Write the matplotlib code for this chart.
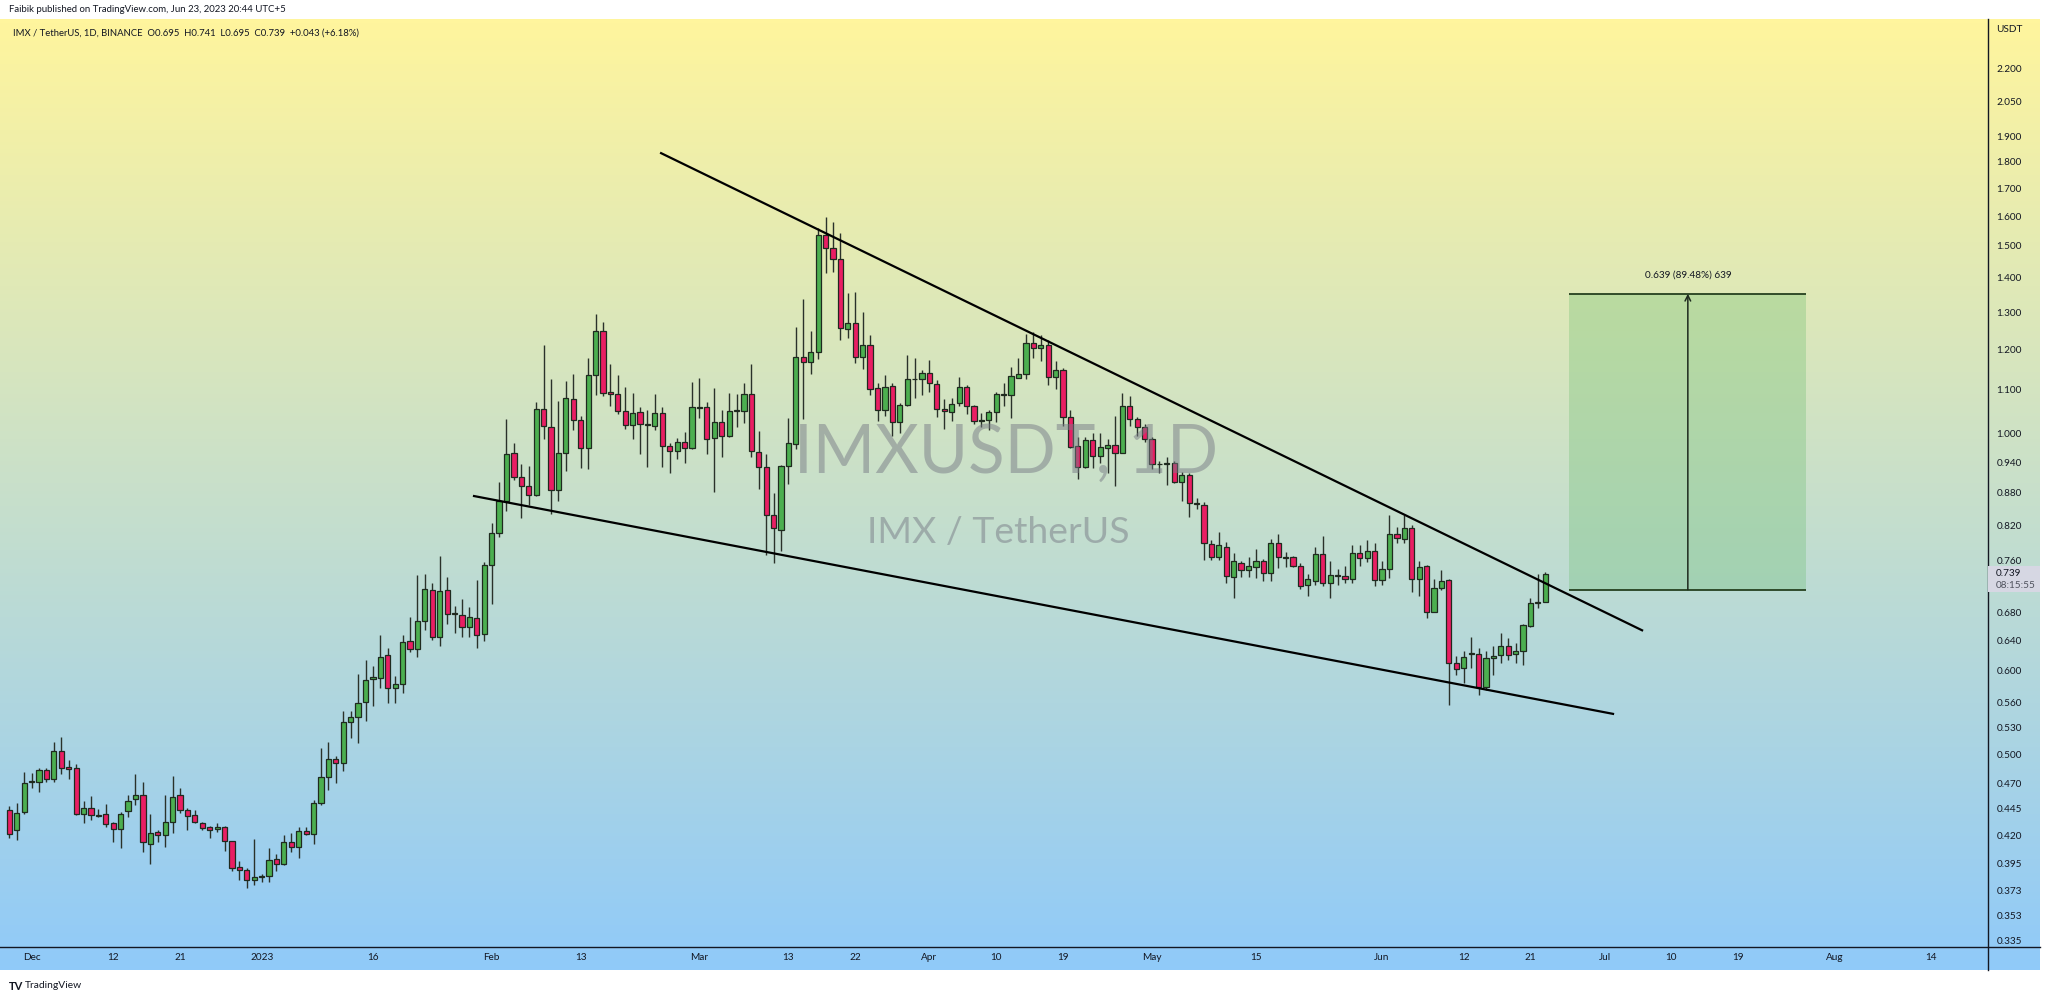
import numpy as np
import pandas as pd
import matplotlib
matplotlib.use("Agg")
import matplotlib.pyplot as plt
import matplotlib.dates as mdates
from matplotlib.ticker import NullLocator, NullFormatter
from matplotlib.lines import Line2D
from matplotlib.patches import Rectangle

W, H = 2048, 999

# daily candles IMX/USDT, 2022-11-28 .. 2023-06-23
opens = [0.444, 0.425, 0.442, 0.471, 0.471, 0.484, 0.474, 0.504, 0.487, 0.486,
         0.440, 0.446, 0.439, 0.440, 0.431, 0.426, 0.443, 0.454, 0.458, 0.412,
         0.423, 0.420, 0.432, 0.458, 0.444, 0.439, 0.431, 0.428, 0.426, 0.428,
         0.415, 0.392, 0.390, 0.381, 0.384, 0.385, 0.399, 0.395, 0.414, 0.410,
         0.424, 0.421, 0.450, 0.476, 0.495, 0.491, 0.536, 0.542, 0.560, 0.589,
         0.590, 0.620, 0.577, 0.583, 0.639, 0.628, 0.667, 0.714, 0.644, 0.714,
         0.679, 0.676, 0.658, 0.672, 0.649, 0.753, 0.807, 0.864, 0.959, 0.910,
         0.893, 0.876, 1.054, 1.014, 0.885, 0.959, 1.077, 1.030, 0.969, 1.135,
         1.247, 1.094, 1.089, 1.050, 1.019, 1.047, 1.021, 1.017, 1.045, 0.973,
         0.963, 0.982, 0.969, 1.059, 1.059, 0.990, 1.025, 0.995, 1.050, 1.050,
         1.089, 0.961, 0.930, 0.839, 0.812, 0.932, 0.979, 1.180, 1.167, 1.193,
         1.537, 1.493, 1.457, 1.253, 1.270, 1.180, 1.211, 1.103, 1.052, 1.108,
         1.025, 1.064, 1.125, 1.126, 1.140, 1.113, 1.055, 1.048, 1.068, 1.106,
         1.061, 1.030, 1.030, 1.048, 1.089, 1.087, 1.129, 1.137, 1.216, 1.203,
         1.211, 1.130, 1.147, 1.036, 0.973, 0.930, 0.986, 0.953, 0.970, 0.975,
         0.959, 1.061, 1.032, 1.014, 0.988, 0.937, 0.936, 0.939, 0.900, 0.915,
         0.861, 0.857, 0.788, 0.766, 0.783, 0.734, 0.757, 0.745, 0.750, 0.759,
         0.740, 0.790, 0.766, 0.766, 0.751, 0.721, 0.728, 0.772, 0.724, 0.737,
         0.735, 0.731, 0.773, 0.765, 0.776, 0.729, 0.746, 0.805, 0.797, 0.816,
         0.730, 0.751, 0.681, 0.716, 0.729, 0.609, 0.603, 0.622, 0.622, 0.579,
         0.616, 0.620, 0.632, 0.622, 0.626, 0.660, 0.694, 0.695]
highs = [0.447, 0.450, 0.482, 0.481, 0.486, 0.486, 0.514, 0.519, 0.494, 0.490,
         0.452, 0.457, 0.445, 0.449, 0.432, 0.442, 0.458, 0.480, 0.471, 0.440,
         0.425, 0.458, 0.477, 0.465, 0.446, 0.444, 0.432, 0.429, 0.431, 0.429,
         0.415, 0.397, 0.391, 0.417, 0.386, 0.409, 0.403, 0.420, 0.422, 0.428,
         0.428, 0.453, 0.507, 0.514, 0.498, 0.549, 0.549, 0.595, 0.613, 0.606,
         0.647, 0.629, 0.592, 0.647, 0.673, 0.737, 0.738, 0.724, 0.768, 0.734,
         0.689, 0.700, 0.688, 0.729, 0.758, 0.824, 0.900, 1.032, 0.980, 0.937,
         0.932, 1.071, 1.211, 1.125, 1.073, 1.120, 1.137, 1.039, 1.177, 1.295,
         1.272, 1.162, 1.135, 1.106, 1.092, 1.059, 1.052, 1.089, 1.059, 0.980,
         0.991, 1.003, 1.118, 1.128, 1.070, 1.104, 1.052, 1.091, 1.089, 1.115,
         1.162, 1.006, 0.957, 0.879, 0.934, 1.034, 1.259, 1.337, 1.247, 1.560,
         1.596, 1.579, 1.541, 1.355, 1.357, 1.300, 1.237, 1.115, 1.135, 1.115,
         1.068, 1.185, 1.177, 1.147, 1.172, 1.123, 1.078, 1.080, 1.130, 1.111,
         1.064, 1.045, 1.052, 1.094, 1.115, 1.154, 1.177, 1.240, 1.245, 1.237,
         1.224, 1.169, 1.152, 1.052, 0.993, 0.993, 1.001, 1.001, 0.989, 1.038,
         1.091, 1.084, 1.036, 1.021, 0.993, 0.943, 0.951, 0.943, 0.921, 0.918,
         0.870, 0.863, 0.795, 0.809, 0.792, 0.773, 0.760, 0.767, 0.779, 0.763,
         0.796, 0.805, 0.774, 0.768, 0.756, 0.739, 0.783, 0.801, 0.759, 0.747,
         0.751, 0.786, 0.786, 0.795, 0.790, 0.759, 0.839, 0.817, 0.839, 0.821,
         0.759, 0.753, 0.731, 0.745, 0.731, 0.619, 0.625, 0.644, 0.629, 0.626,
         0.632, 0.650, 0.643, 0.636, 0.663, 0.701, 0.738, 0.741]
lows = [0.418, 0.416, 0.440, 0.465, 0.461, 0.471, 0.471, 0.479, 0.474, 0.439,
        0.431, 0.434, 0.437, 0.428, 0.414, 0.409, 0.437, 0.448, 0.405, 0.395,
        0.414, 0.410, 0.422, 0.441, 0.425, 0.431, 0.425, 0.418, 0.423, 0.406,
        0.389, 0.381, 0.375, 0.377, 0.380, 0.380, 0.389, 0.394, 0.405, 0.400,
        0.420, 0.412, 0.448, 0.463, 0.470, 0.483, 0.518, 0.513, 0.538, 0.555,
        0.577, 0.559, 0.559, 0.571, 0.624, 0.618, 0.655, 0.641, 0.632, 0.663,
        0.650, 0.644, 0.645, 0.630, 0.639, 0.692, 0.800, 0.846, 0.905, 0.833,
        0.857, 0.874, 0.988, 0.841, 0.864, 0.922, 1.008, 0.928, 0.926, 1.087,
        1.085, 1.061, 1.043, 1.010, 0.988, 0.957, 0.930, 1.008, 0.930, 0.918,
        0.947, 0.939, 0.967, 1.034, 0.957, 0.882, 0.951, 0.993, 1.014, 1.023,
        0.951, 0.887, 0.769, 0.757, 0.777, 0.897, 0.967, 1.032, 1.137, 1.175,
        1.414, 1.417, 1.223, 1.229, 1.164, 1.150, 1.087, 1.027, 1.038, 0.995,
        1.001, 1.061, 1.080, 1.087, 1.095, 1.036, 1.010, 1.028, 1.061, 1.043,
        1.021, 1.014, 1.008, 1.025, 1.061, 1.034, 1.127, 1.125, 1.177, 1.169,
        1.111, 1.101, 1.016, 0.969, 0.906, 0.928, 0.928, 0.938, 0.918, 0.893,
        0.959, 1.016, 0.995, 0.982, 0.926, 0.918, 0.895, 0.899, 0.864, 0.835,
        0.850, 0.761, 0.761, 0.761, 0.725, 0.701, 0.734, 0.734, 0.732, 0.727,
        0.727, 0.748, 0.750, 0.750, 0.715, 0.704, 0.722, 0.719, 0.701, 0.721,
        0.724, 0.724, 0.751, 0.758, 0.719, 0.721, 0.732, 0.790, 0.790, 0.710,
        0.705, 0.671, 0.680, 0.713, 0.556, 0.594, 0.584, 0.603, 0.569, 0.575,
        0.594, 0.610, 0.613, 0.610, 0.607, 0.659, 0.686, 0.695]
closes = [0.421, 0.441, 0.470, 0.472, 0.484, 0.474, 0.504, 0.486, 0.485, 0.440,
          0.446, 0.439, 0.438, 0.430, 0.426, 0.440, 0.452, 0.458, 0.414, 0.422,
          0.420, 0.432, 0.456, 0.444, 0.438, 0.432, 0.427, 0.425, 0.428, 0.415,
          0.391, 0.390, 0.381, 0.384, 0.385, 0.398, 0.395, 0.414, 0.410, 0.424,
          0.421, 0.450, 0.476, 0.495, 0.491, 0.536, 0.542, 0.559, 0.588, 0.591,
          0.618, 0.577, 0.583, 0.637, 0.628, 0.667, 0.715, 0.644, 0.712, 0.677,
          0.678, 0.658, 0.673, 0.648, 0.753, 0.807, 0.864, 0.957, 0.910, 0.893,
          0.876, 1.054, 1.016, 0.885, 0.959, 1.080, 1.030, 0.969, 1.135, 1.247,
          1.091, 1.090, 1.050, 1.019, 1.045, 1.021, 1.019, 1.045, 0.973, 0.963,
          0.982, 0.969, 1.059, 1.057, 0.989, 1.025, 0.995, 1.050, 1.052, 1.089,
          0.963, 0.930, 0.839, 0.816, 0.932, 0.980, 1.180, 1.167, 1.193, 1.537,
          1.493, 1.457, 1.256, 1.270, 1.180, 1.211, 1.101, 1.052, 1.105, 1.025,
          1.064, 1.125, 1.126, 1.140, 1.115, 1.054, 1.050, 1.066, 1.106, 1.061,
          1.027, 1.028, 1.048, 1.089, 1.087, 1.132, 1.137, 1.216, 1.203, 1.211,
          1.130, 1.147, 1.036, 0.971, 0.930, 0.986, 0.953, 0.972, 0.975, 0.959,
          1.061, 1.032, 1.014, 0.988, 0.936, 0.936, 0.939, 0.900, 0.915, 0.861,
          0.859, 0.790, 0.766, 0.786, 0.735, 0.759, 0.745, 0.751, 0.759, 0.740,
          0.790, 0.766, 0.765, 0.751, 0.719, 0.731, 0.772, 0.724, 0.737, 0.736,
          0.731, 0.773, 0.765, 0.776, 0.729, 0.747, 0.805, 0.798, 0.816, 0.730,
          0.750, 0.681, 0.716, 0.727, 0.609, 0.602, 0.618, 0.623, 0.579, 0.616,
          0.619, 0.632, 0.620, 0.626, 0.661, 0.694, 0.695, 0.739]
dates = pd.date_range("2022-11-28", periods=len(opens), freq="D")

price_ticks = [2.2, 2.05, 1.9, 1.8, 1.7, 1.6, 1.5, 1.4, 1.3, 1.2, 1.1, 1.0, 0.94,
               0.88, 0.82, 0.76, 0.68, 0.64, 0.60, 0.56, 0.53, 0.50, 0.47, 0.445,
               0.42, 0.395, 0.373, 0.353, 0.335]
tick_dates = ["2022-12-01", "2022-12-12", "2022-12-21", "2023-01-01", "2023-01-16",
              "2023-02-01", "2023-02-13", "2023-03-01", "2023-03-13", "2023-03-22",
              "2023-04-01", "2023-04-10", "2023-04-19", "2023-05-01", "2023-05-15",
              "2023-06-01", "2023-06-12", "2023-06-21", "2023-07-01", "2023-07-10",
              "2023-07-19", "2023-08-01", "2023-08-14"]
tick_labels = ["Dec", "12", "21", "2023", "16", "Feb", "13", "Mar", "13", "22",
               "Apr", "10", "19", "May", "15", "Jun", "12", "21", "Jul", "10",
               "19", "Aug", "14"]

# drawings
upper_dates = ["2023-02-23 20:00", "2023-07-06 01:00"]
upper_prices = [1.833, 0.654]
lower_dates = ["2023-01-29 15:00", "2023-07-02 03:00"]
lower_prices = [0.874, 0.546]
range_dates = ["2023-06-26 05:00", "2023-07-28 02:00"]
range_low, range_high = 0.714, 1.353
arrow_date = "2023-07-12 05:00"
range_label = "0.639 (89.48%) 639"
last_price = 0.739
countdown = "08:15:55"

header1 = "Faibik published on TradingView.com, Jun 23, 2023 20:44 UTC+5"
header2 = "IMX / TetherUS, 1D, BINANCE  O0.695  H0.741  L0.695  C0.739  +0.043 (+6.18%)"

FONT = ["Lato", "DejaVu Sans"]
TXT = "#131722"
SMALL = 7.2


def fx(px):
    return px / W


def fy(py):
    return 1 - py / H


def dnum(s):
    return mdates.date2num(pd.to_datetime(s))


fig = plt.figure(figsize=(W / 100, H / 100), dpi=100)
fig.patch.set_facecolor("white")
renderer = fig.canvas.get_renderer()


def fit_width(t, target_px):
    # scale font so the text spans the same width as in the picture
    w = t.get_window_extent(renderer).width
    t.set_fontsize(t.get_fontsize() * target_px / w)


# gradient background (chart + axis strips)
bg = fig.add_axes([0, fy(970), fx(2040), (970 - 19) / H])
top = np.array([0xff, 0xf5, 0x9d]) / 255
bot = np.array([0x90, 0xca, 0xf9]) / 255
t = np.linspace(0, 1, 256)[:, None, None]
grad = top * (1 - t) + bot * t
bg.imshow(grad, aspect="auto", extent=[0, 1, 0, 1])
bg.axis("off")

ax = fig.add_axes([0, fy(947), fx(1988), (947 - 19) / H])
ax.set_facecolor("none")
ax.set_yscale("log")
x0 = dnum("2023-01-01")
ax.set_xlim(x0 - 35.26, x0 + 232.66)
ax.set_ylim(0.330, 2.449)
for s in ax.spines.values():
    s.set_visible(False)

# watermark
wm1 = fig.text(fx(1006), fy(473), "IMXUSDT, 1D", family=FONT, fontsize=50,
               color="#787b86", alpha=0.5, ha="center", va="baseline", zorder=1)
fit_width(wm1, 425)
wm2 = fig.text(fx(998), fy(543), "IMX / TetherUS", family=FONT, fontsize=30,
               color="#787b86", alpha=0.5, ha="center", va="baseline", zorder=1)
fit_width(wm2, 262)

# candles
x = mdates.date2num(dates)
o = np.array(opens)
h = np.array(highs)
l = np.array(lows)
c = np.array(closes)
colors = np.where(c >= o, "#4caf50", "#e91e63")
ax.vlines(x, l, h, color="#2a312a", lw=1.0, zorder=3)
ax.bar(x, np.maximum(np.abs(c - o), 0.0008), bottom=np.minimum(o, c), width=0.7,
       color=colors, edgecolor="#1f2a1f", linewidth=0.9, zorder=4)

# wedge lines
ax.plot(mdates.date2num(pd.to_datetime(upper_dates)), upper_prices, color="black", lw=1.6, zorder=5)
ax.plot(mdates.date2num(pd.to_datetime(lower_dates)), lower_prices, color="black", lw=1.6, zorder=5)

# price range box
rx0, rx1 = dnum(range_dates[0]), dnum(range_dates[1])
ax.add_patch(Rectangle((rx0, range_low), rx1 - rx0, range_high - range_low,
                       facecolor="#66bb6a", alpha=0.3, edgecolor="none", zorder=2))
ax.hlines([range_low, range_high], rx0, rx1, color="#25401f", lw=1.3, zorder=3)
xa = dnum(arrow_date)
ax.annotate("", xy=(xa, range_high), xytext=(xa, range_low),
            arrowprops=dict(arrowstyle="->", color="#1e2a1e", lw=1.1,
                            shrinkA=0, shrinkB=0), zorder=3)
rl = ax.annotate(range_label, xy=(xa, range_high), xytext=(0, 10), textcoords="offset points",
                 ha="center", va="bottom", family=FONT, fontsize=SMALL, color=TXT)

# axes ticks
ax.yaxis.tick_right()
ax.yaxis.set_minor_locator(NullLocator())
ax.yaxis.set_minor_formatter(NullFormatter())
ax.set_yticks(price_ticks)
ax.set_yticklabels([f"{p:.3f}" for p in price_ticks])
ax.set_xticks(mdates.date2num(pd.to_datetime(tick_dates)))
ax.set_xticklabels(tick_labels)
ax.tick_params(axis="y", length=0, pad=6, labelsize=SMALL, labelcolor=TXT)
ax.tick_params(axis="x", length=0, pad=4, labelsize=SMALL, labelcolor=TXT)
for lab in ax.get_xticklabels() + ax.get_yticklabels():
    lab.set_family(FONT)

# axis lines
fig.add_artist(Line2D([fx(1988), fx(1988)], [fy(19), fy(970)], color="#131722", lw=1.0))
fig.add_artist(Line2D([0, fx(2040)], [fy(947), fy(947)], color="#131722", lw=1.0))

# last price label
fig.add_artist(Rectangle((fx(1988), fy(592)), fx(2040) - fx(1988), 26 / H,
                         facecolor="#d6d7e3", edgecolor="none", zorder=5))
fig.text(fx(1996), fy(574), f"{last_price:.3f}", family=FONT, fontsize=SMALL,
         color=TXT, va="center", ha="left", zorder=6)
fig.text(fx(1996), fy(586), countdown, family=FONT, fontsize=SMALL,
         color="#50535e", va="center", ha="left", zorder=6)
fig.text(fx(1996), fy(30), "USDT", family=FONT, fontsize=SMALL, color=TXT,
         va="center", ha="left")

# header / footer
h1 = fig.text(fx(9), fy(9), header1, family=FONT, fontsize=SMALL, color=TXT, va="center", ha="left")
fit_width(h1, 277)
h2 = fig.text(fx(13), fy(33), header2, family=FONT, fontsize=SMALL, color=TXT, va="center", ha="left")
fit_width(h2, 345)
fig.text(fx(9), fy(986), "TV", family=FONT, fontsize=8, weight="bold", color=TXT,
         va="center", ha="left")
tv = fig.text(fx(25), fy(986), "TradingView", family=FONT, fontsize=8, color=TXT,
              va="center", ha="left")
fit_width(tv, 57)

fig.savefig("out.png", dpi=100)
